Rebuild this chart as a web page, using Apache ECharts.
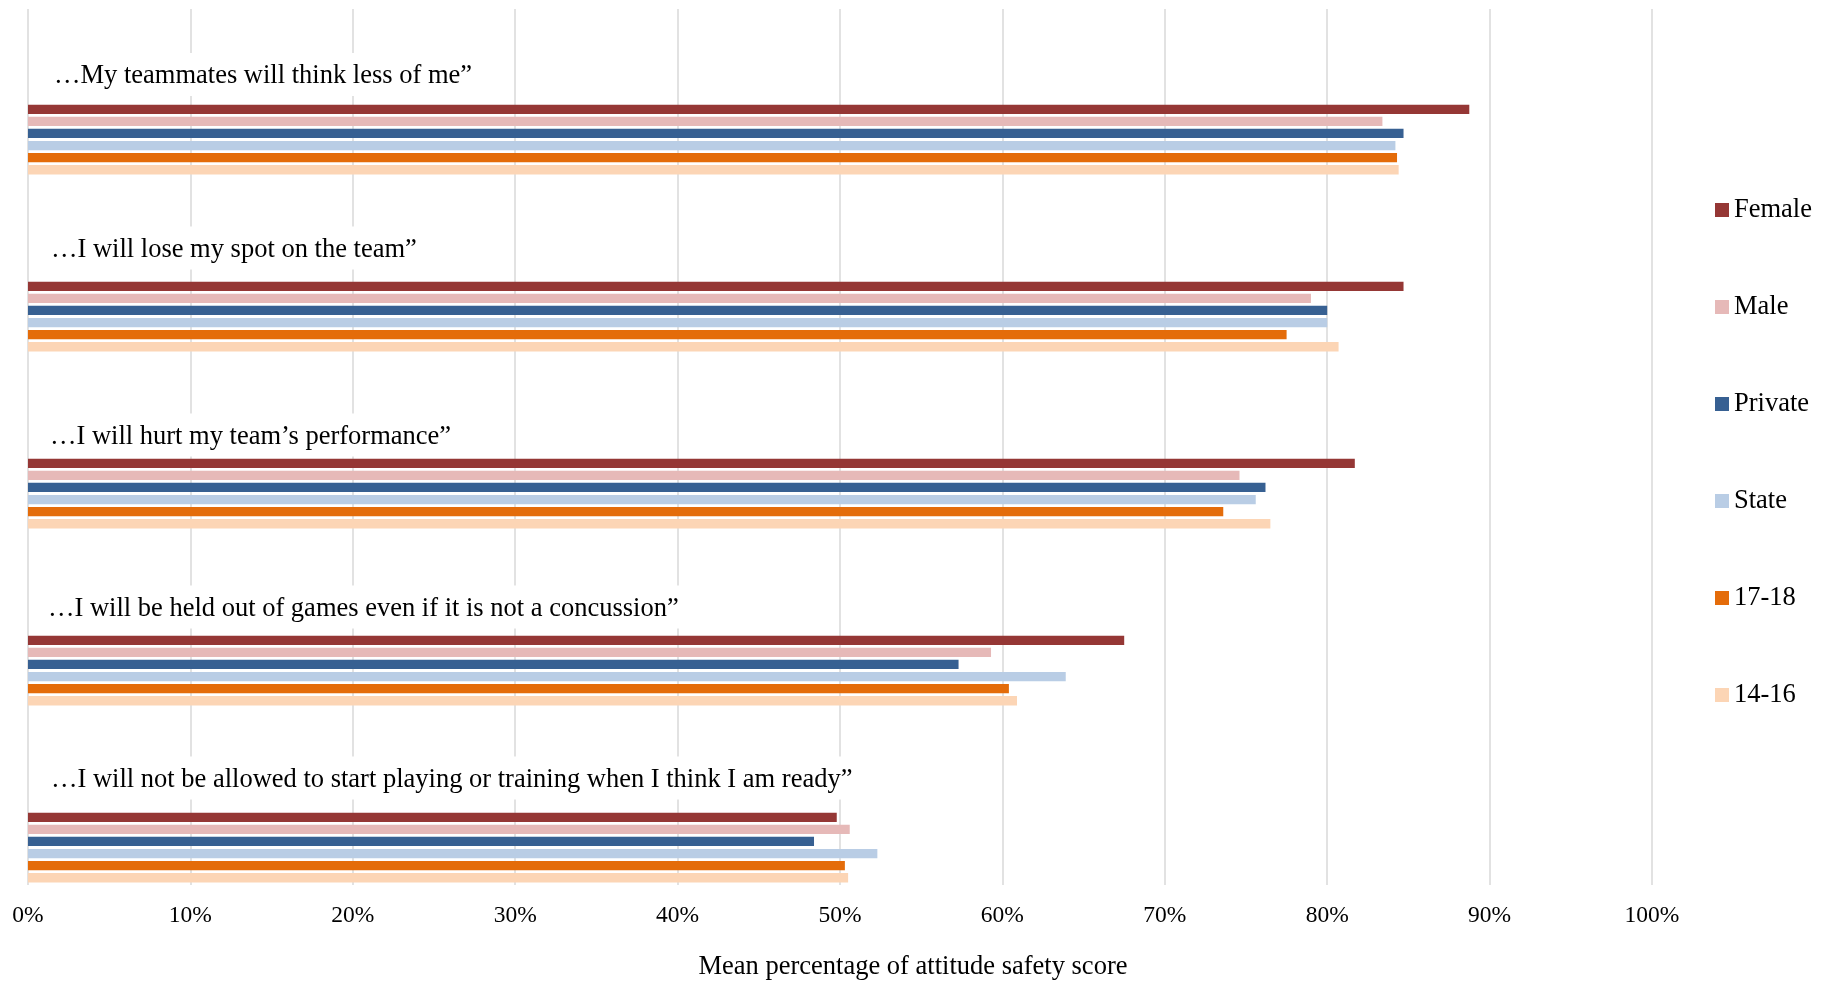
<!DOCTYPE html>
<html>
<head>
<meta charset="utf-8">
<title>Mean percentage of attitude safety score</title>
<script src="https://cdn.jsdelivr.net/npm/echarts@6/dist/echarts.min.js"></script>
<style>
  html, body { margin: 0; padding: 0; background: #fff; }
  #chart { width: 1824px; height: 986px; }
</style>
</head>
<body>
<div id="chart"></div>
<script>
// Statements (top to bottom)
const statements = [
  '\u2026My teammates will think less of me\u201d',
  '\u2026I will lose my spot on the team\u201d',
  '\u2026I will hurt my team\u2019s performance\u201d',
  '\u2026I will be held out of games even if it is not a concussion\u201d',
  '\u2026I will not be allowed to start playing or training when I think I am ready\u201d'
];

// Mean percentage of attitude safety score per group
const female  = [88.75, 84.7, 81.7, 67.5, 49.8];
const male    = [83.4, 79.0, 74.6, 59.3, 50.6];
const privateSchool = [84.7, 80.0, 76.2, 57.3, 48.4];
const stateSchool   = [84.2, 80.0, 75.6, 63.9, 52.3];
const age1718 = [84.3, 77.5, 73.6, 60.4, 50.3];
const age1416 = [84.4, 80.7, 76.5, 60.9, 50.5];

const seriesNames = ['Female', 'Male', 'Private', 'State', '17-18', '14-16'];
const seriesValues = [female, male, privateSchool, stateSchool, age1718, age1416];
const seriesColors = ['#953735', '#E6B9B8', '#376092', '#B9CDE5', '#E46C0A', '#FCD5B5'];

const xTicks = [0, 10, 20, 30, 40, 50, 60, 70, 80, 90, 100];

const FONT = '"Liberation Serif", "Times New Roman", serif';

// Statement captions sit in white boxes above each bar group; each box is
// lifted by its own spacer and indented by its own left padding.
const captionSpacer = [130, 137, 117, 127, 139];
const captionIndent = [23, 20, 19, 17, 20];

const captionRich = {};
captionSpacer.forEach(function (h, i) {
  captionRich['t' + i] = {
    fontFamily: FONT,
    fontSize: 26.5,
    color: '#000',
    lineHeight: 30,
    backgroundColor: '#ffffff',
    padding: [10, 24, 6, captionIndent[i]]
  };
  captionRich['s' + i] = { height: h, lineHeight: h, fontSize: 1 };
});

const chart = echarts.init(document.getElementById('chart'), null, { renderer: 'canvas' });

const option = {
  backgroundColor: '#ffffff',
  animation: false,
  textStyle: { fontFamily: FONT, color: '#000' },
  legend: {
    data: seriesNames,
    orient: 'vertical',
    left: 1715,
    top: 196,
    itemWidth: 14,
    itemHeight: 14,
    itemGap: 69,
    padding: 0,
    icon: 'rect',
    textStyle: { fontFamily: FONT, fontSize: 26.5, color: '#000', lineHeight: 28 }
  },
  grid: [
    // frame for the percentage gridlines and tick labels
    { left: 28, right: 172, top: 9, bottom: 96, containLabel: false },
    // bars, one band per statement
    { left: 28, right: 172, top: 51, height: 885, containLabel: false }
  ],
  xAxis: [
    {
      gridIndex: 0,
      type: 'value',
      min: xTicks[0],
      max: xTicks[xTicks.length - 1],
      interval: 10,
      axisLine: { show: false },
      axisTick: { show: false },
      splitLine: { show: true, lineStyle: { color: '#d9d9d9', width: 1.5 } },
      axisLabel: {
        formatter: '{value}%',
        fontFamily: FONT,
        fontSize: 23.5,
        color: '#000',
        margin: 19
      },
      name: 'Mean percentage of attitude safety score',
      nameLocation: 'middle',
      nameGap: 69,
      nameTextStyle: { fontFamily: FONT, fontSize: 26.5, color: '#000', padding: [0, 0, 0, 146] }
    },
    {
      gridIndex: 1,
      type: 'value',
      min: xTicks[0],
      max: xTicks[xTicks.length - 1],
      show: false
    }
  ],
  yAxis: [
    { gridIndex: 0, type: 'value', show: false },
    {
      gridIndex: 1,
      type: 'category',
      data: statements,
      inverse: true,
      z: 1,
      axisLine: { show: false },
      axisTick: { show: false },
      splitLine: { show: false },
      axisLabel: {
        inside: true,
        margin: 3,
        align: 'left',
        verticalAlign: 'middle',
        formatter: function (v, i) { return '{t' + i + '|' + v + '}\n{s' + i + '| }'; },
        rich: captionRich
      }
    }
  ],
  series: seriesNames.map(function (name, i) {
    return {
      name: name,
      type: 'bar',
      xAxisIndex: 1,
      yAxisIndex: 1,
      data: seriesValues[i],
      barWidth: 9.3,
      barGap: '30%',
      itemStyle: { color: seriesColors[i] }
    };
  })
};

chart.setOption(option);
</script>
</body>
</html>
